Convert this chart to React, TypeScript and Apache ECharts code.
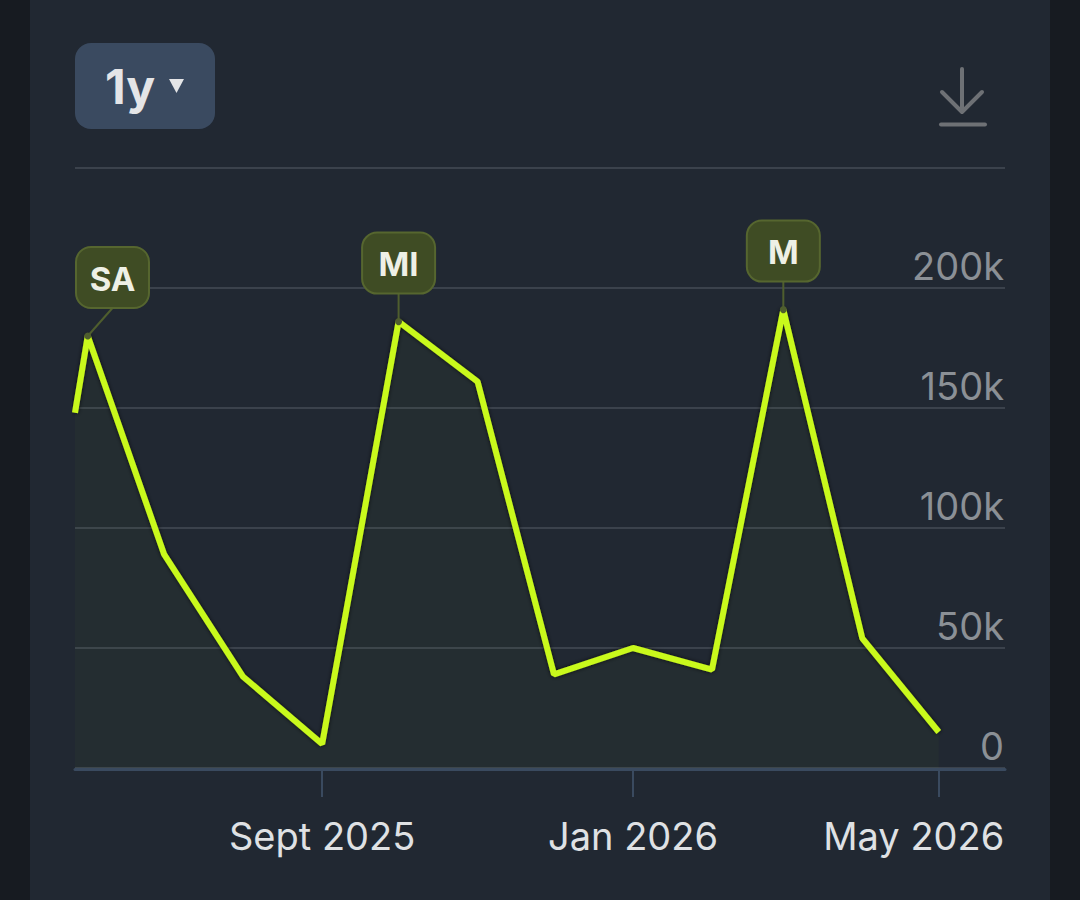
import React, { useEffect, useRef } from "react";
import * as echarts from "echarts";

const dates: string[] = [
  "2025-05-27", "2025-06-01", "2025-07-01", "2025-08-01", "2025-09-01", "2025-10-01",
  "2025-11-01", "2025-12-01", "2026-01-01", "2026-02-01", "2026-03-01", "2026-04-01", "2026-05-01",
];
const values: number[] = [
  148000, 180000, 89000, 38000, 10000, 186000, 161000, 39000, 50000, 41000, 191000, 54000, 15000,
];
const annotationDates: string[] = ["2025-06-01", "2025-10-01", "2026-03-01"];
const annotationLabels: string[] = ["SA", "MI", "M"];
const xTickDates: string[] = ["2025-09-01", "2026-01-01", "2026-05-01"];
const xTickLabels: string[] = ["Sept 2025", "Jan 2026", "May 2026"];
const rangeLabel = "1y";

const toTs = (s: string) => {
  const [y, m, d] = s.split("-").map(Number);
  return Date.UTC(y, m - 1, d);
};

export default function App() {
  const ref = useRef<HTMLDivElement>(null);
  useEffect(() => {
    if (!ref.current) return;
    const chart = echarts.init(ref.current, undefined, { renderer: "svg" });
    const lineData = dates.map((d, i) => [toTs(d), values[i]]);
    const annData = annotationDates.map((d, i) => {
      const idx = dates.indexOf(d);
      return [toTs(d), values[idx], annotationLabels[i]];
    });
    const tickTs = xTickDates.map(toTs);
    const labelMap: Record<number, string> = {};
    tickTs.forEach((t, i) => (labelMap[t] = xTickLabels[i]));
    const lastTs = tickTs[tickTs.length - 1];
    const font = "Inter, 'Noto Sans', sans-serif";

    chart.setOption({
      animation: false,
      backgroundColor: "#171b21",
      textStyle: { fontFamily: font },
      grid: { left: 75, right: 75, top: 168, bottom: 132 },
      graphic: [
        { type: "rect", z: -10, shape: { x: 30, y: 0, width: 1020, height: 900 }, style: { fill: "#212832" } },
        { type: "rect", shape: { x: 75, y: 43, width: 140, height: 86, r: 16 }, style: { fill: "#3a4a60" } },
        {
          type: "text", x: 105, y: 86,
          style: { text: rangeLabel, fill: "#e4e5e7", font: `bold 48px ${font}`, verticalAlign: "middle", align: "left" },
        },
        { type: "polygon", shape: { points: [[169, 79], [184, 79], [176.5, 93]] }, style: { fill: "#e4e5e7" } },
        { type: "line", shape: { x1: 962, y1: 69, x2: 962, y2: 110 }, style: { stroke: "#6e7175", lineWidth: 4, lineCap: "round" } },
        { type: "polyline", shape: { points: [[942, 92], [962, 112], [982, 92]] }, style: { stroke: "#6e7175", lineWidth: 4, lineCap: "round", lineJoin: "round", fill: "none" } },
        { type: "line", shape: { x1: 941, y1: 124.5, x2: 985, y2: 124.5 }, style: { stroke: "#6e7175", lineWidth: 4, lineCap: "round" } },
      ],
      xAxis: {
        type: "value",
        min: toTs("2025-05-27"),
        max: toTs("2026-05-27"),
        offset: 1,
        axisLine: { show: true, onZero: false, lineStyle: { color: "#3a4a5f", width: 3 } },
        axisTick: { show: true, length: 28, lineStyle: { color: "#3a4a5f", width: 2 }, customValues: tickTs },
        splitLine: { show: false },
        axisLabel: {
          customValues: tickTs,
          margin: 48,
          color: "#dfe1e4",
          fontSize: 38,
          fontFamily: font,
          formatter: (v: number) => {
            const s = labelMap[v] || "";
            return v === lastTs ? `{last|${s}}` : s;
          },
          rich: { last: { color: "#dfe1e4", fontSize: 38, fontFamily: font, padding: [0, 50, 0, 0] } },
        },
      },
      yAxis: {
        type: "value",
        position: "right",
        min: 0,
        max: 250000,
        interval: 50000,
        axisLine: { show: false },
        axisTick: { show: false },
        splitLine: { show: true, lineStyle: { color: "#3b424c", width: 2 } },
        axisLabel: {
          inside: true,
          margin: 1,
          showMaxLabel: false,
          verticalAlign: "bottom",
          padding: [0, 0, 3, 0],
          color: "#8b9096",
          fontSize: 38,
          fontFamily: font,
          formatter: (v: number) => (v === 0 ? "0" : v === 250000 ? "" : `${v / 1000}k`),
        },
      },
      series: [
        {
          type: "line",
          data: lineData,
          symbol: "none",
          clip: true,
          z: 3,
          lineStyle: { color: "#c9f91c", width: 6, shadowColor: "rgba(0,0,0,0.7)", shadowBlur: 4 },
          areaStyle: { color: "rgba(190,240,30,0.035)" },
        },
        {
          type: "custom",
          data: annData,
          encode: { x: 0, y: 1 },
          z: 5,
          clip: false,
          renderItem: (params: any, api: any) => {
            const p = api.coord([api.value(0), api.value(1)]);
            const label = annotationLabels[params.dataIndex];
            const w = 73, h = 61, gap = 28;
            let bx = p[0] - w / 2;
            const minX = params.coordSys.x + 1;
            if (bx < minX) bx = minX;
            const by = p[1] - gap - h;
            return {
              type: "group",
              children: [
                { type: "line", shape: { x1: p[0], y1: p[1], x2: bx + w / 2, y2: by + h }, style: { stroke: "#4f5e2e", lineWidth: 2 } },
                { type: "circle", shape: { cx: p[0], cy: p[1], r: 3.5 }, style: { fill: "#4f5e2e" } },
                { type: "rect", shape: { x: bx, y: by, width: w, height: h, r: 15 }, style: { fill: "#3f4c24", stroke: "#56662f", lineWidth: 2 } },
                {
                  type: "text",
                  x: bx + w / 2,
                  y: by + h / 2 + 1,
                  style: { text: label, fill: "#eef0e6", font: `bold 33px ${font}`, align: "center", verticalAlign: "middle" },
                },
              ],
            };
          },
        },
      ],
    });
    return () => chart.dispose();
  }, []);
  return <div ref={ref} style={{ position: "absolute", left: 0, top: 0, width: 1080, height: 900 }} />;
}
